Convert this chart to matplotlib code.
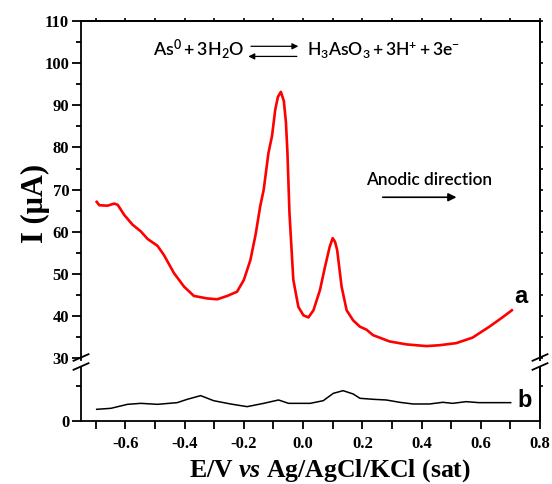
"""
As(0) stripping voltammogram, broken y axis (curves a / b)
"""
import matplotlib
matplotlib.use('Agg')
import matplotlib.pyplot as plt
import matplotlib.ticker as mticker
from matplotlib import font_manager
from matplotlib.lines import Line2D

plt.rcParams['font.family'] = 'Liberation Serif'
plt.rcParams['font.weight'] = 'bold'
plt.rcParams['axes.unicode_minus'] = False
plt.rcParams['mathtext.fontset'] = 'custom'
plt.rcParams['mathtext.rm'] = 'Liberation Serif:bold'
plt.rcParams['mathtext.it'] = 'Liberation Serif:italic:bold'

_names = {f.name for f in font_manager.fontManager.ttflist}
NARROW = 'Lato' if 'Lato' in _names else 'Liberation Sans'

# ── data ────────────────────────────────────────────────────
potential_a = [-0.697, -0.688, -0.660, -0.638, -0.626, -0.604, -0.576, -0.548, -0.525,
               -0.492, -0.470, -0.436, -0.402, -0.369, -0.324, -0.290, -0.256, -0.223,
               -0.200, -0.178, -0.160, -0.145, -0.133, -0.117, -0.105, -0.094, -0.085,
               -0.075, -0.065, -0.058, -0.053, -0.046, -0.033, -0.016, 0.001, 0.018, 0.035,
               0.057, 0.074, 0.090, 0.100, 0.108, 0.115, 0.130, 0.147, 0.169, 0.192, 0.214, 0.236,
               0.292, 0.349, 0.416, 0.460, 0.517, 0.572, 0.629, 0.673, 0.705]
current_a = [67.1, 66.3, 66.2, 66.7, 66.4, 64.0, 61.7, 60.1, 58.3,
             56.7, 54.5, 50.2, 47.0, 44.8, 44.2, 44.0, 44.8, 45.8,
             48.6, 53.3, 59.5, 66.0, 70.0, 78.7, 82.7, 89.0, 92.0,
             93.2, 91.0, 86.0, 79.0, 64.4, 48.6, 42.2, 40.2, 39.7, 41.4,
             46.2, 51.7, 56.5, 58.5, 57.6, 55.7, 47.0, 41.4, 39.0, 37.5, 36.8, 35.5,
             34.0, 33.3, 32.9, 33.1, 33.6, 34.9, 37.5, 39.7, 41.4]

potential_b = [-0.697, -0.649, -0.593, -0.548, -0.492, -0.425, -0.391, -0.346, -0.302,
               -0.245, -0.189, -0.133, -0.083, -0.049, -0.010, 0.024, 0.068, 0.102,
               0.135, 0.169, 0.192, 0.236, 0.281, 0.326, 0.371, 0.427, 0.472, 0.505,
               0.550, 0.595, 0.640, 0.701]
current_b = [1.67, 1.81, 2.38, 2.52, 2.38, 2.62, 3.10, 3.62, 2.90,
             2.43, 2.05, 2.52, 3.00, 2.52, 2.52, 2.52, 2.90, 3.95,
             4.33, 3.86, 3.24, 3.10, 3.00, 2.67, 2.43, 2.43, 2.67, 2.52,
             2.76, 2.62, 2.62, 2.62]

W, H = 552, 484
fig = plt.figure(figsize=(W / 100, H / 100), dpi=100)
fig.patch.set_facecolor('white')

def box(l, t, r, b):
    return [l / W, 1 - b / H, (r - l) / W, (b - t) / H]

ax_top = fig.add_axes(box(81, 21, 540, 360))
ax_bot = fig.add_axes(box(81, 367, 540, 421))

ax_top.plot(potential_a, current_a, color='#ff0000', lw=1.9)
ax_bot.plot(potential_b, current_b, color='black', lw=1.1)

for ax in (ax_top, ax_bot):
    ax.set_xlim(-0.75, 0.8)
    for s in ax.spines.values():
        s.set_linewidth(1.3)
ax_top.set_ylim(29.6, 110)
ax_bot.set_ylim(0, 7.71)
ax_top.spines['bottom'].set_visible(False)
ax_bot.spines['top'].set_visible(False)

# upper panel ticks
ax_top.yaxis.set_major_locator(mticker.MultipleLocator(10))
ax_top.yaxis.set_minor_locator(mticker.MultipleLocator(5))
ax_top.tick_params(axis='y', which='major', length=6.5, width=1.3, labelsize=12, pad=2)
ax_top.tick_params(axis='y', which='minor', length=3.5, width=1.3)
ax_top.tick_params(axis='x', which='both', bottom=False, labelbottom=False)

# lower panel ticks
ax_bot.yaxis.set_major_locator(mticker.FixedLocator([0]))
ax_bot.yaxis.set_minor_locator(mticker.FixedLocator([5]))
ax_bot.tick_params(axis='y', which='major', length=6.5, width=1.3, labelsize=12, pad=2)
ax_bot.tick_params(axis='y', which='minor', length=3.5, width=1.3)
ax_bot.xaxis.set_major_locator(mticker.MultipleLocator(0.2))
ax_bot.xaxis.set_minor_locator(mticker.MultipleLocator(0.1))
ax_bot.xaxis.set_major_formatter(mticker.FormatStrFormatter('%.1f'))
ax_bot.tick_params(axis='x', which='both', length=6, width=1.3, labelsize=12, pad=5)

# short mirror ticks on top / right
sec_t = ax_top.secondary_xaxis('top')
sec_t.xaxis.set_major_locator(mticker.MultipleLocator(0.1))
sec_t.tick_params(length=2.5, width=1.2, labeltop=False)
sec_r = ax_top.secondary_yaxis('right')
sec_r.yaxis.set_major_locator(mticker.MultipleLocator(5))
sec_r.tick_params(length=2.5, width=1.2, labelright=False)
sec_r2 = ax_bot.secondary_yaxis('right')
sec_r2.yaxis.set_major_locator(mticker.FixedLocator([5]))
sec_r2.tick_params(length=2.5, width=1.2, labelright=False)
for sec in (sec_t, sec_r, sec_r2):
    for s in sec.spines.values():
        s.set_linewidth(1.3)

# axis break marks
for xs in (81, 540):
    for yc in (357.5, 366.5):
        fig.add_artist(Line2D([(xs - 7.5) / W, (xs + 7.5) / W],
                              [1 - (yc + 3.3) / H, 1 - (yc - 3.3) / H],
                              transform=fig.transFigure, color='black', lw=1.3))

# reaction scheme
ax_top.text(-0.508, 101.9, r'$\mathregular{As^{0} + 3H_{2}O}$', family=NARROW,
            weight='semibold', fontsize=12.9, va='baseline')
ax_top.text(0.0124, 101.9, r'$\mathregular{H_{3}AsO_{3} + 3H^{+} + 3e^{-}}$', family=NARROW,
            weight='semibold', fontsize=12.6, va='baseline')
arr = dict(arrowstyle='-|>', color='black', lw=0.9, mutation_scale=9, shrinkA=0, shrinkB=0)
ax_top.annotate('', xy=(-0.016, 104.0), xytext=(-0.176, 104.0), arrowprops=arr)
ax_top.annotate('', xy=(-0.185, 101.6), xytext=(-0.021, 101.6), arrowprops=arr)

ax_top.text(0.424, 71.2, 'Anodic direction', family=NARROW, weight='semibold',
            fontsize=12.4, ha='center', va='baseline')
ax_top.annotate('', xy=(0.518, 68.2), xytext=(0.269, 68.2),
                arrowprops=dict(arrowstyle='-|>', color='black', lw=1.2,
                                mutation_scale=12, shrinkA=0, shrinkB=0))

ax_top.text(0.736, 43.2, 'a', family='Liberation Sans', weight='bold', fontsize=17,
            ha='center', va='baseline')
ax_bot.text(0.747, 1.96, 'b', family='Liberation Sans', weight='bold', fontsize=17,
            ha='center', va='baseline')

fig.text(329.5 / W, 1 - 477 / H, r'E/V $\it{vs}$ Ag/AgCl/KCl (sat)', fontsize=18.5,
         weight='bold', ha='center', va='baseline')
fig.text(35 / W, 1 - 203 / H, 'I (μA)', rotation=90, fontsize=22, weight='bold',
         ha='center', va='center')

fig.savefig('out.png', dpi=100, facecolor='white')
